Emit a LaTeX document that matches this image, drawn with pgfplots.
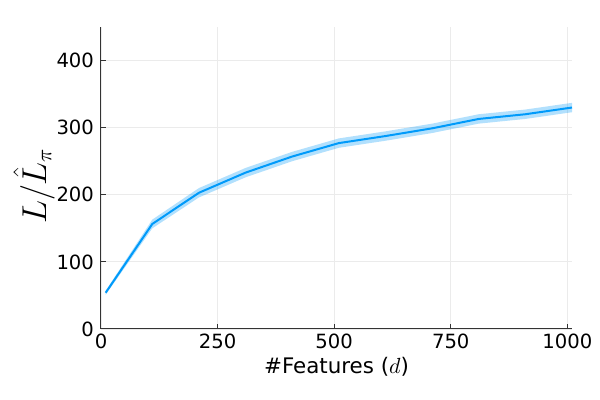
\documentclass[border=0pt]{standalone}
\usepackage{fontspec}
\setmainfont{DejaVu Sans}
\usepackage{pgfplots}
\pgfplotsset{compat=1.18}
\usepgfplotslibrary{fillbetween}

\definecolor{juliablue}{RGB}{0,154,250}

\begin{document}
\begin{tikzpicture}
\begin{axis}[
  at={(0,0)}, anchor=south west,
  scale only axis,
  width=235.5pt, height=151pt,
  xmin=0, xmax=1010,
  ymin=0, ymax=450,
  axis x line*=bottom,
  axis y line*=left,
  axis line style={black!80, line width=0.5pt},
  tick align=inside,
  major tick length=2.5pt,
  tick style={black!80, line width=0.5pt},
  xtick={0,250,500,750,1000},
  ytick={0,100,200,300,400},
  grid=major,
  grid style={black!8, line width=0.4pt},
  /pgf/number format/assume math mode=true,
  /pgf/number format/1000 sep={},
  tick label style={font=\fontsize{9.8}{11}\selectfont},
  xticklabel style={yshift=1pt},
  xlabel={\#Features ($d$)},
  ylabel={$L/\hat{L}_\pi$},
  xlabel style={font=\fontsize{10.7}{12}\selectfont, yshift=2.5pt},
  ylabel style={font=\fontsize{16}{18}\selectfont,
    at={(axis description cs:-0.142,0.474)}, anchor=center},
]
\addplot[name path=upper, draw=none, forget plot]
  coordinates {(10,57) (110,163) (210,210) (310,240) (410,264) (510,284) (610,294.5) (710,306) (810,320) (910,327) (1010,337)};
\addplot[name path=lower, draw=none, forget plot]
  coordinates {(10,51) (110,150) (210,196) (310,226) (410,250) (510,270) (610,280.5) (710,292) (810,306) (910,313) (1010,323)};
\addplot[juliablue, fill opacity=0.3, draw=none, forget plot] fill between[of=upper and lower];
\addplot[juliablue, line width=1pt]
  coordinates {(10,54) (110,156.5) (210,203) (310,233) (410,257) (510,277) (610,287.5) (710,299) (810,313) (910,320) (1010,330)};
\end{axis}
\path[use as bounding box] (-50.5pt,-35.5pt) rectangle (249.5pt,164.5pt);
\end{tikzpicture}
\end{document}
